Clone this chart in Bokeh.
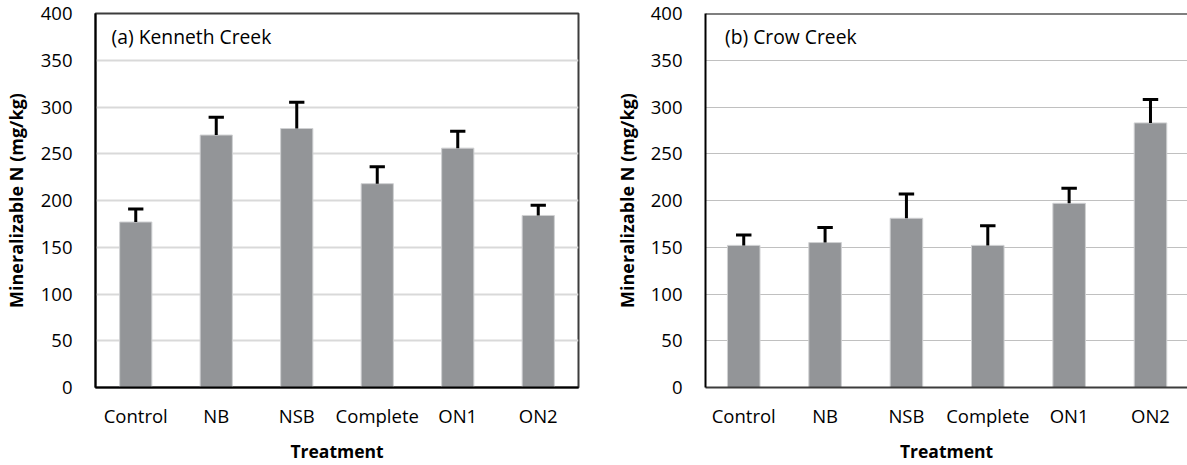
from bokeh.plotting import figure
from bokeh.layouts import row
from bokeh.models import Range1d, FixedTicker, Span, Label, ColumnDataSource
from bokeh.embed import file_html
from bokeh.resources import INLINE

# Treatments and mineralizable N (mg/kg) with upper standard-error bars
treatments = ["Control", "NB", "NSB", "Complete", "ON1", "ON2"]
kenneth_mean = [177, 270, 277, 218, 256, 184]
kenneth_err = [14, 19, 28, 18, 18, 11]
crow_mean = [152, 155, 181, 152, 197, 283]
crow_err = [11, 16, 26, 21, 16, 25]
y_ticks = [0, 50, 100, 150, 200, 250, 300, 350, 400]

FONT = "Open Sans"
BAR = "#939598"


def panel(title, means, errs, width, border_left, border_right, x_range,
          grid_color, grid_width, top_color, bottom_color, frame_right,
          title_dx, ylabel_standoff):
    idx = list(range(len(treatments)))
    src = ColumnDataSource(dict(
        x=idx,
        top=means,
        cap=[m + e for m, e in zip(means, errs)],
        cl=[i - 0.095 for i in idx],
        cr=[i + 0.095 for i in idx],
    ))
    p = figure(width=width, height=465, output_backend="svg", toolbar_location=None,
               x_range=x_range, y_range=Range1d(0, 400),
               min_border_left=border_left, min_border_right=border_right,
               min_border_top=13, min_border_bottom=78)
    p.background_fill_color = "white"
    p.border_fill_color = "white"
    if frame_right:
        p.outline_line_color = top_color
        p.outline_line_width = 2
    else:
        p.outline_line_color = None
        p.add_layout(Span(location=400, dimension="width",
                          line_color=top_color, line_width=2))

    p.vbar(x="x", top="top", width=0.4, source=src,
           fill_color=BAR, line_color="#cfd0d2", line_width=1)
    p.segment(x0="x", y0="top", x1="x", y1="cap", source=src,
              line_color="black", line_width=3)
    p.segment(x0="cl", y0="cap", x1="cr", y1="cap", source=src,
              line_color="black", line_width=3)

    p.xgrid.visible = False
    p.ygrid.grid_line_color = grid_color
    p.ygrid.grid_line_width = grid_width
    p.ygrid.ticker = FixedTicker(ticks=y_ticks)

    yax = p.yaxis[0]
    yax.ticker = FixedTicker(ticks=y_ticks)
    yax.axis_label = "Mineralizable N (mg/kg)"
    yax.axis_line_color = "black"
    yax.axis_line_width = 2
    yax.major_tick_line_color = None
    yax.minor_tick_line_color = None
    yax.major_label_standoff = 17
    yax.axis_label_standoff = ylabel_standoff

    xax = p.xaxis[0]
    xax.ticker = FixedTicker(ticks=idx)
    xax.major_label_overrides = {i: t for i, t in enumerate(treatments)}
    xax.axis_label = "Treatment"
    xax.axis_line_color = bottom_color
    xax.axis_line_width = 2
    xax.major_tick_line_color = None
    xax.minor_tick_line_color = None
    xax.major_label_standoff = 9
    xax.axis_label_standoff = 8

    for ax in (xax, yax):
        ax.major_label_text_font = FONT
        ax.major_label_text_font_size = "18.5px"
        ax.major_label_text_color = "black"
        ax.axis_label_text_font = FONT
        ax.axis_label_text_font_size = "18px"
        ax.axis_label_text_font_style = "bold"
        ax.axis_label_text_color = "black"
    xax.axis_label_text_font_size = "17.5px"

    p.add_layout(Label(x=x_range.start + title_dx, y=375, text=title,
                       text_font=FONT, text_font_size="19.3px",
                       text_baseline="middle", text_color="black"))
    return p


left = panel("(a) Kenneth Creek", kenneth_mean, kenneth_err, 600, 91, 22,
             Range1d(-0.5, 5.5), "#d9d9d9", 2, "#3c3c3c", "black", True,
             0.2, 10)
right = panel("(b) Crow Creek", crow_mean, crow_err, 587, 105, 0,
              Range1d(-0.47, 5.455), "#c0c0c0", 1, "black", "#3c3c3c", False,
              0.24, 9)

layout = row(left, right)
open("out.html", "w").write(file_html(layout, INLINE))
